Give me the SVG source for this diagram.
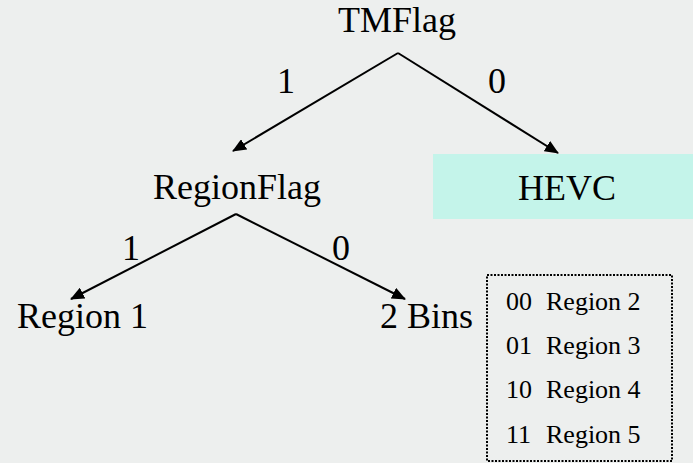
<svg xmlns="http://www.w3.org/2000/svg" width="693" height="463" viewBox="0 0 693 463" font-family="'Liberation Serif', 'Times New Roman', Times, serif">
  <style>
    text { fill: #000; }
    .big { font-size: 36px; }
    .small { font-size: 26px; }
    .mid { text-anchor: middle; }
    .edge { stroke: #000; stroke-width: 2; fill: none; marker-end: url(#arrow); }
  </style>
  <defs>
    <marker id="arrow" viewBox="0 0 14 12" refX="13" refY="6" markerWidth="14" markerHeight="12" markerUnits="userSpaceOnUse" orient="auto">
      <path d="M0,0 L14,6 L0,12 Z" fill="#000"/>
    </marker>
  </defs>
  <rect width="693" height="463" fill="#EDEFEE"/>

  <g id="connectors">
    <polyline class="edge" points="398,53 233,151"/>
    <polyline class="edge" points="398,53 558,153"/>
    <polyline class="edge" points="236,214 71,299"/>
    <polyline class="edge" points="236,214 405,299"/>
    <text class="big mid" x="286" y="93">1</text>
    <text class="big mid" x="497" y="93">0</text>
    <text class="big mid" x="131" y="260">1</text>
    <text class="big mid" x="341" y="260">0</text>
  </g>

  <g id="tmflag">
    <text class="big mid" x="397" y="32">TMFlag</text>
  </g>
  <g id="regionflag">
    <text class="big mid" x="237" y="199">RegionFlag</text>
  </g>
  <g id="hevc">
    <rect x="433" y="154" width="260" height="65" fill="#C4F4EA"/>
    <text class="big mid" x="567" y="200">HEVC</text>
  </g>
  <g id="region1">
    <text class="big" x="17" y="328">Region 1</text>
  </g>
  <g id="bins">
    <text class="big" x="380" y="328">2 Bins</text>
  </g>
  <g id="bin-table">
    <rect x="487" y="275" width="185" height="186" fill="none" stroke="#000" stroke-width="2" stroke-dasharray="2 1.5"/>
    <text class="small" x="506" y="310">00</text>
    <text class="small" x="546" y="310">Region 2</text>
    <text class="small" x="506" y="354">01</text>
    <text class="small" x="546" y="354">Region 3</text>
    <text class="small" x="506" y="398">10</text>
    <text class="small" x="546" y="398">Region 4</text>
    <text class="small" x="506" y="443">11</text>
    <text class="small" x="546" y="443">Region 5</text>
  </g>
</svg>
